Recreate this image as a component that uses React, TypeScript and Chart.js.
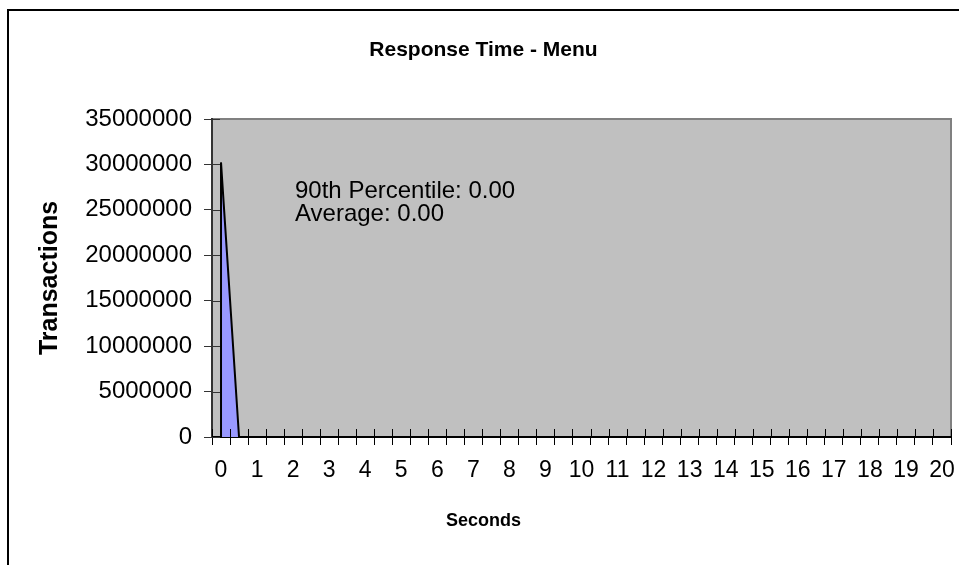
import React, { useEffect, useRef } from 'react';
import { Chart, registerables } from 'chart.js';

Chart.register(...registerables);

const TITLE = 'Response Time - Menu';
const X_TITLE = 'Seconds';
const Y_TITLE = 'Transactions';

const CATEGORIES = [
  '0', '0.5', '1', '1.5', '2', '2.5', '3', '3.5', '4', '4.5',
  '5', '5.5', '6', '6.5', '7', '7.5', '8', '8.5', '9', '9.5',
  '10', '10.5', '11', '11.5', '12', '12.5', '13', '13.5', '14', '14.5',
  '15', '15.5', '16', '16.5', '17', '17.5', '18', '18.5', '19', '19.5',
  '20',
];

const TRANSACTIONS = [
  30200000, 0, 0, 0, 0, 0, 0, 0, 0, 0,
  0, 0, 0, 0, 0, 0, 0, 0, 0, 0,
  0, 0, 0, 0, 0, 0, 0, 0, 0, 0,
  0, 0, 0, 0, 0, 0, 0, 0, 0, 0,
  0,
];

const Y_MIN = 0;
const Y_MAX = 35000000;
const Y_STEP = 5000000;

const NOTES = ['90th Percentile: 0.00', 'Average: 0.00'];

const FONT = '"Liberation Sans", Arial, sans-serif';

const decor = {
  id: 'decor',
  beforeDraw(chart: any) {
    const { ctx, chartArea: a } = chart;
    ctx.save();
    ctx.fillStyle = '#ffffff';
    ctx.fillRect(0, 0, chart.width, chart.height);
    ctx.strokeStyle = '#000000';
    ctx.lineWidth = 2;
    ctx.strokeRect(8, 10, chart.width + 50, chart.height + 50);
    ctx.fillStyle = '#C0C0C0';
    ctx.fillRect(a.left, a.top, a.right - a.left, a.bottom - a.top);
    ctx.strokeStyle = '#808080';
    ctx.lineWidth = 2;
    ctx.strokeRect(a.left, a.top, a.right - a.left, a.bottom - a.top);
    ctx.restore();
  },
  afterDatasetsDraw(chart: any) {
    const { ctx, chartArea: a } = chart;
    const xs = chart.scales.x;
    const ys = chart.scales.y;
    ctx.save();
    // left edge of the area
    const meta = chart.getDatasetMeta(0);
    const p = meta.data[0];
    if (p) {
      ctx.strokeStyle = '#000000';
      ctx.lineWidth = 2;
      ctx.beginPath();
      ctx.moveTo(p.x, ys.getPixelForValue(0));
      ctx.lineTo(p.x, p.y);
      ctx.stroke();
    }
    // inner halves of cross tick marks
    ctx.lineWidth = 1;
    ctx.strokeStyle = '#000000';
    for (let i = 0; i <= CATEGORIES.length; i++) {
      const x = Math.round(xs.getPixelForValue(i - 0.5)) + 0.5;
      ctx.beginPath();
      ctx.moveTo(x, a.bottom);
      ctx.lineTo(x, a.bottom - 8);
      ctx.stroke();
    }
    ctx.strokeStyle = '#333333';
    for (const t of ys.ticks) {
      const y = Math.round(ys.getPixelForValue(t.value)) + 0.5;
      ctx.beginPath();
      ctx.moveTo(a.left, y);
      ctx.lineTo(a.left + 8, y);
      ctx.stroke();
    }
    // annotation
    ctx.fillStyle = '#000000';
    ctx.font = `24px ${FONT}`;
    ctx.textAlign = 'left';
    ctx.textBaseline = 'middle';
    ctx.fillText(NOTES[0], a.left + 83, a.top + 72);
    ctx.fillText(NOTES[1], a.left + 83, a.top + 95);
    // x axis title, centred on the whole chart like the original
    ctx.font = `bold 18px ${FONT}`;
    ctx.textAlign = 'center';
    ctx.fillText(X_TITLE, (8 + chart.width) / 2, 521);
    ctx.restore();
  },
};

export default function App() {
  const ref = useRef<HTMLCanvasElement>(null);

  useEffect(() => {
    if (!ref.current) return;
    const chart = new Chart(ref.current, {
      type: 'line',
      data: {
        labels: CATEGORIES,
        datasets: [
          {
            data: TRANSACTIONS,
            fill: 'origin',
            backgroundColor: '#9999FF',
            borderColor: '#000000',
            borderWidth: 2,
            pointRadius: 0,
            tension: 0,
          },
        ],
      },
      options: {
        responsive: false,
        animation: false,
        devicePixelRatio: 1,
        layout: { padding: { left: 8, right: 0, top: 0, bottom: 0 } },
        plugins: {
          legend: { display: false },
          tooltip: { enabled: false },
          title: {
            display: true,
            text: TITLE,
            color: '#000000',
            font: { family: FONT, size: 21, weight: 'bold', lineHeight: 1.2 },
            padding: { top: 38, bottom: 55.8 },
          },
        },
        scales: {
          x: {
            type: 'category',
            offset: true,
            grid: {
              offset: true,
              drawOnChartArea: false,
              drawTicks: true,
              tickLength: 8,
              color: '#000000',
              lineWidth: 1,
            },
            border: { display: true, color: '#000000', width: 2 },
            ticks: {
              autoSkip: false,
              maxRotation: 0,
              minRotation: 0,
              color: '#000000',
              font: { family: FONT, size: 23 },
              padding: 12,
              callback: (_v: any, i: number) => (i % 2 === 0 ? CATEGORIES[i] : ''),
            },
            afterFit: (s: any) => {
              s.height = 128;
              s.paddingLeft = 0;
              s.paddingRight = 8;
            },
          },
          y: {
            min: Y_MIN,
            max: Y_MAX,
            ticks: {
              stepSize: Y_STEP,
              color: '#000000',
              font: { family: FONT, size: 24 },
              padding: 12,
              callback: (v: any) => String(v),
            },
            grid: {
              drawOnChartArea: false,
              drawTicks: true,
              tickLength: 8,
              color: '#333333',
              lineWidth: 1,
            },
            border: { display: true, color: '#333333', width: 2 },
            title: {
              display: true,
              text: Y_TITLE,
              color: '#000000',
              font: { family: FONT, size: 25, weight: 'bold', lineHeight: 1.2 },
              padding: { top: 27, bottom: 0 },
            },
            afterFit: (s: any) => {
              s.width = 204;
              s.paddingTop = 0;
              s.paddingBottom = 0;
            },
          },
        },
      } as any,
      plugins: [decor],
    });
    return () => chart.destroy();
  }, []);

  return (
    <div style={{ position: 'fixed', left: 0, top: 0, width: 959, height: 565, background: '#fff' }}>
      <canvas ref={ref} width={959} height={565} style={{ display: 'block' }} />
    </div>
  );
}
